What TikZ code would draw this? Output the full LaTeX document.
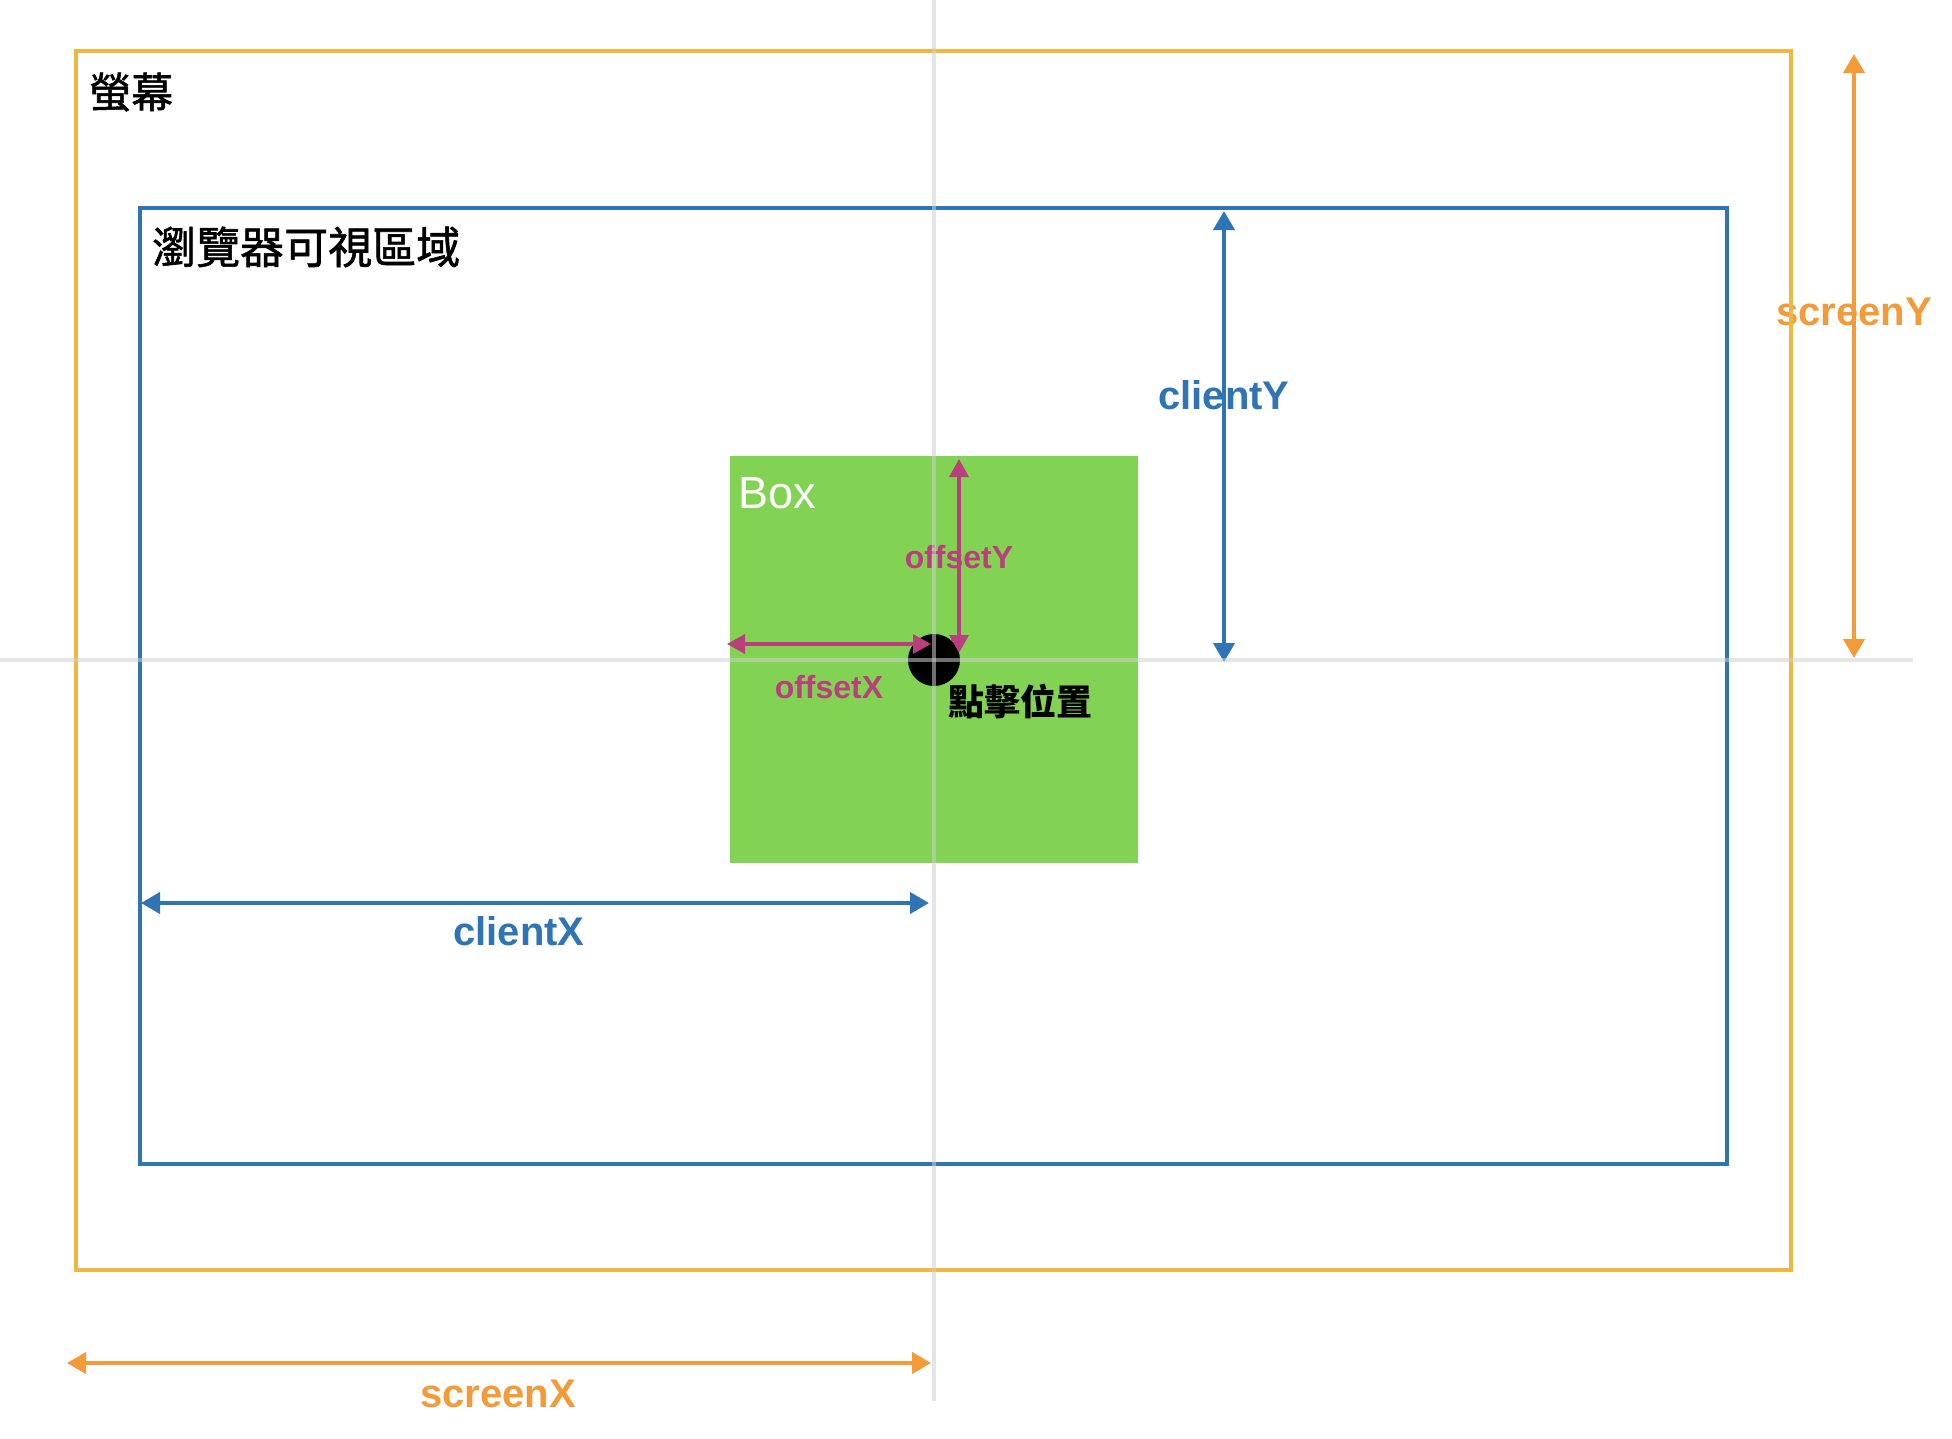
\documentclass[tikz,border=0pt]{standalone}
\usepackage{fontspec}
\setmainfont{Liberation Sans}
\newfontfamily\cjk[FakeBold=1.3]{Noto Sans CJK TC}
\newfontfamily\cjkb{Noto Sans CJK TC}
\usetikzlibrary{arrows.meta}
\definecolor{frameyellow}{HTML}{F0B840}
\definecolor{dimorange}{HTML}{F29B38}
\definecolor{dimblue}{HTML}{2F75B6}
\definecolor{boxgreen}{HTML}{82D354}
\definecolor{dimmagenta}{HTML}{BA3F7D}
\definecolor{guidegray}{RGB}{207,207,207}
\tikzset{
  lbl/.style={inner sep=0pt, font=\fontsize{40}{48}\selectfont\bfseries},
  cjklbl/.style={inner sep=0pt, font=\fontsize{44}{52}\selectfont\cjk},
  frame/.style={line width=3.5pt},
  dimarrow/.style={line width=4pt, {Triangle[length=19pt,width=21pt]}-{Triangle[length=19pt,width=21pt]}},
  smallarrow/.style={line width=3.5pt, {Triangle[length=18pt,width=19pt]}-{Triangle[length=18pt,width=19pt]}},
  guide/.style={line width=4pt, guidegray, opacity=0.54}
}
\begin{document}
\begin{tikzpicture}[x=1pt,y=-1pt]
\useasboundingbox (0,0) rectangle (1952,1438);
\fill[white] (0,0) rectangle (1952,1438);

% green box
\fill[boxgreen] (730,456) rectangle (1138,863);

% labels
\node[cjklbl, anchor=west, font=\fontsize{42}{50}\selectfont\cjk] (screenlbl) at (89,92) {螢幕};
\node[cjklbl, anchor=west] (browserlbl) at (152,247) {瀏覽器可視區域};
\node[inner sep=0pt, anchor=west, text=white, font=\fontsize{45}{54}\selectfont] (boxlbl) at (738,493) {Box};
\node[lbl, text=dimorange] (screenYlbl) at (1854,312) {screenY};
\node[lbl, text=dimorange] (screenXlbl) at (498,1394) {screenX};
\node[lbl, text=dimblue] (clientYlbl) at (1224,395) {clientY};
\node[lbl, text=dimblue] (clientXlbl) at (519,931) {clientX};
\node[inner sep=0pt, font=\fontsize{32}{38}\selectfont\bfseries, text=dimmagenta] (offYlbl) at (959,557) {offsetY};
\node[inner sep=0pt, font=\fontsize{32}{38}\selectfont\bfseries, text=dimmagenta] (offXlbl) at (829,687) {offsetX};
\node[inner sep=0pt, anchor=west, font=\fontsize{36}{42}\selectfont\cjkb\bfseries] (clicklbl) at (948,701) {點擊位置};

% frames
\draw[frame, frameyellow] (76,51) rectangle (1791,1270);
\draw[frame, dimblue] (140,208) rectangle (1727,1164);

% click dot
\node[circle, fill=black, minimum size=52pt, inner sep=0pt] (click) at (934,660) {};

% coordinates for arrow ends
\coordinate (syTop) at (1854,54);
\coordinate (syBot) at (1854,658);
\coordinate (sxL) at (67,1363);
\coordinate (sxR) at (931,1363);
\coordinate (cyTop) at (1224,211);
\coordinate (cyBot) at (1224,662);
\coordinate (cxL) at (141,903);
\coordinate (cxR) at (929,903);
\coordinate (oyTop) at (959,459);
\coordinate (oyBot) at (959,653);
\coordinate (oxL) at (727,644);
\coordinate (oxR) at (931,644);

% dimension arrows
\draw[dimarrow, dimorange] (syTop) -- (syBot);
\draw[dimarrow, dimorange] (sxL) -- (sxR);
\draw[dimarrow, dimblue] (cyTop) -- (cyBot);
\draw[dimarrow, dimblue] (cxL) -- (cxR);
\draw[smallarrow, dimmagenta] (oyTop) -- (oyBot);
\draw[smallarrow, dimmagenta] (oxL) -- (oxR);

% guide lines
\coordinate (gvTop) at (934,0);
\coordinate (gvBot) at (934,1401);
\coordinate (ghL) at (0,660);
\coordinate (ghR) at (1913,660);
\draw[guide] (gvTop) -- (gvBot);
\draw[guide] (ghL) -- (ghR);
\end{tikzpicture}
\end{document}
